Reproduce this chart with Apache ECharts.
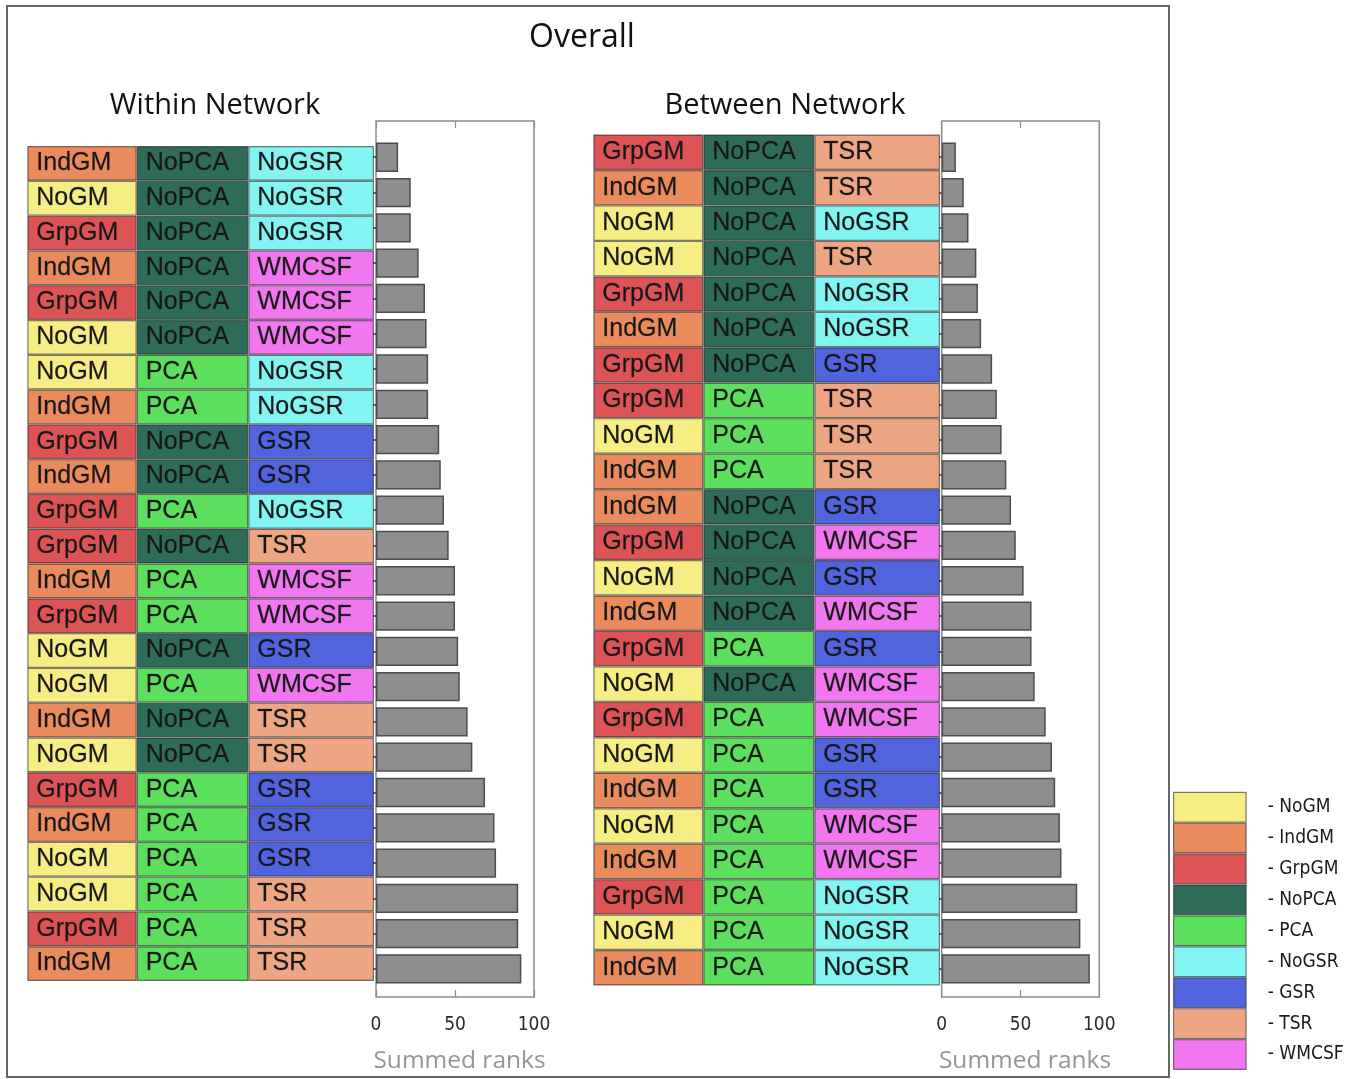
<!DOCTYPE html>
<html>
<head>
<meta charset="utf-8">
<title>Overall - summed ranks</title>
<script src="https://cdn.jsdelivr.net/npm/echarts@6/dist/echarts.min.js"></script>
<style>
  html, body { margin: 0; padding: 0; background: #fff; }
  #chart { width: 1355px; height: 1079px; }
</style>
</head>
<body>
<div id="chart"></div>
<script>
// ---- data ----
var withinGM = ["IndGM", "NoGM", "GrpGM", "IndGM", "GrpGM", "NoGM", "NoGM", "IndGM", "GrpGM", "IndGM", "GrpGM", "GrpGM",
  "IndGM", "GrpGM", "NoGM", "NoGM", "IndGM", "NoGM", "GrpGM", "IndGM", "NoGM", "NoGM", "GrpGM", "IndGM"];
var withinPCA = ["NoPCA", "NoPCA", "NoPCA", "NoPCA", "NoPCA", "NoPCA", "PCA", "PCA", "NoPCA", "NoPCA", "PCA", "NoPCA",
  "PCA", "PCA", "NoPCA", "PCA", "NoPCA", "NoPCA", "PCA", "PCA", "PCA", "PCA", "PCA", "PCA"];
var withinNR = ["NoGSR", "NoGSR", "NoGSR", "WMCSF", "WMCSF", "WMCSF", "NoGSR", "NoGSR", "GSR", "GSR", "NoGSR", "TSR",
  "WMCSF", "WMCSF", "GSR", "WMCSF", "TSR", "TSR", "GSR", "GSR", "GSR", "TSR", "TSR", "TSR"];
var withinRanks = [14, 22, 22, 27, 31, 32, 33, 33, 40, 41, 43, 46, 50, 50, 52, 53, 58, 61, 69, 75, 76, 90, 90, 92];

var betweenGM = ["GrpGM", "IndGM", "NoGM", "NoGM", "GrpGM", "IndGM", "GrpGM", "GrpGM", "NoGM", "IndGM", "IndGM", "GrpGM",
  "NoGM", "IndGM", "GrpGM", "NoGM", "GrpGM", "NoGM", "IndGM", "NoGM", "IndGM", "GrpGM", "NoGM", "IndGM"];
var betweenPCA = ["NoPCA", "NoPCA", "NoPCA", "NoPCA", "NoPCA", "NoPCA", "NoPCA", "PCA", "PCA", "PCA", "NoPCA", "NoPCA",
  "NoPCA", "NoPCA", "PCA", "NoPCA", "PCA", "PCA", "PCA", "PCA", "PCA", "PCA", "PCA", "PCA"];
var betweenNR = ["TSR", "TSR", "NoGSR", "TSR", "NoGSR", "NoGSR", "GSR", "TSR", "TSR", "TSR", "GSR", "WMCSF",
  "GSR", "WMCSF", "GSR", "WMCSF", "WMCSF", "GSR", "GSR", "WMCSF", "WMCSF", "NoGSR", "NoGSR", "NoGSR"];
var betweenRanks = [9, 14, 17, 22, 23, 25, 32, 35, 38, 41, 44, 47, 52, 57, 57, 59, 66, 70, 72, 75, 76, 86, 88, 94];

var legendNames = ["NoGM", "IndGM", "GrpGM", "NoPCA", "PCA", "NoGSR", "GSR", "TSR", "WMCSF"];

// ---- styles ----
var COLORS = {
  NoGM: "#F6EE84",
  IndGM: "#EA8B5E",
  GrpGM: "#DD5457",
  NoPCA: "#2F6B59",
  PCA: "#5CDF5C",
  NoGSR: "#82F5F3",
  GSR: "#5263DE",
  TSR: "#EDA584",
  WMCSF: "#F077EF",
};
var TITLE_FONT = "'Open Sans', 'DejaVu Sans', sans-serif";
var CELL_FONT = "'Liberation Sans', Arial, sans-serif";
var NARROW_FONT = "'DejaVu Sans Condensed', 'Liberation Sans Narrow', 'Liberation Sans', sans-serif";
var leftCols = [109.4, 111.6, 125.7];
var rightCols = [110, 111, 125.7];

var rowIds = withinRanks.map(function (d, i) {
  return String(i + 1);
});

function sum(arr) {
  return arr.reduce(function (a, b) {
    return a + b;
  }, 0);
}

// one stacked bar per table column, each cell coloured by its label
function tableSeries(cols, widths, xIdx, yIdx, stackName) {
  return cols.map(function (col, c) {
    return {
      type: "bar",
      xAxisIndex: xIdx,
      yAxisIndex: yIdx,
      stack: stackName,
      barWidth: "100%",
      silent: true,
      data: col.map(function (name) {
        return {
          value: widths[c],
          cell: name,
          itemStyle: { color: COLORS[name] },
        };
      }),
      itemStyle: { borderColor: "rgba(20,20,20,0.55)", borderWidth: 1.2 },
      label: {
        show: true,
        position: "insideLeft",
        distance: 9,
        formatter: function (p) {
          return p.data.cell;
        },
        fontFamily: CELL_FONT,
        fontSize: 25,
        color: "#161616",
        textBorderColor: "rgba(22,22,22,0.5)",
        textBorderWidth: 0.4,
      },
    };
  });
}

function rankSeries(values, xIdx, yIdx) {
  return {
    type: "bar",
    xAxisIndex: xIdx,
    yAxisIndex: yIdx,
    barWidth: "83%",
    silent: true,
    data: values,
    itemStyle: { color: "#8e8e8e", borderColor: "#4d4d4d", borderWidth: 1.5 },
  };
}

function frameXAxis(gridIdx, bottom) {
  return {
    type: "value",
    gridIndex: gridIdx,
    position: bottom ? "bottom" : "top",
    min: 0,
    max: 100,
    interval: 50,
    axisLine: { show: false },
    axisTick: { show: true, inside: true, length: 7, lineStyle: { color: "#8c8c8c", width: 1.2 } },
    splitLine: { show: false },
    axisLabel: {
      show: bottom,
      margin: 19,
      fontFamily: NARROW_FONT,
      fontSize: 19,
      color: "#2a2a2a",
    },
    name: bottom ? "Summed ranks" : "",
    nameLocation: "middle",
    nameGap: 52,
    nameTextStyle: { fontFamily: TITLE_FONT, fontSize: 24.5, color: "#959595", padding: [0, 0, 0, 9] },
  };
}

function hiddenX(gridIdx, max) {
  return {
    type: "value",
    gridIndex: gridIdx,
    min: 0,
    max: max,
    show: false,
  };
}

function tickYAxis(gridIdx) {
  return {
    type: "category",
    gridIndex: gridIdx,
    inverse: true,
    position: "right",
    data: rowIds,
    axisLine: { show: false },
    axisTick: { show: true, inside: true, alignWithLabel: true, length: 5, lineStyle: { color: "#333", width: 1.5 } },
    axisLabel: { show: false },
  };
}

function hiddenY(gridIdx, data) {
  return {
    type: "category",
    gridIndex: gridIdx,
    inverse: true,
    data: data,
    show: false,
  };
}

var frameGrid = { show: true, borderColor: "#8c8c8c", borderWidth: 1.5, backgroundColor: "transparent" };

var option = {
  backgroundColor: "#fff",
  animation: false,
  title: [
    { text: "Overall", left: 577, top: 17, textAlign: "center",
      textStyle: { fontFamily: TITLE_FONT, fontWeight: "normal", fontSize: 32, color: "#111" } },
    { text: "Within Network", left: 210, top: 86, textAlign: "center",
      textStyle: { fontFamily: TITLE_FONT, fontWeight: "normal", fontSize: 29, color: "#111" } },
    { text: "Between Network", left: 780, top: 86, textAlign: "center",
      textStyle: { fontFamily: TITLE_FONT, fontWeight: "normal", fontSize: 29, color: "#111" } },
  ],
  grid: [
    Object.assign({ left: 376, top: 121, width: 158, height: 886 }, frameGrid),
    { left: 376, top: 139.6, width: 158, height: 847 },
    { left: 27.3, top: 146, width: 346.7, height: 835 },
    Object.assign({ left: 941.7, top: 121, width: 157.6, height: 886 }, frameGrid),
    { left: 941.7, top: 139.6, width: 157.6, height: 847 },
    { left: 593.3, top: 134.5, width: 346.7, height: 851 },
    { left: 1173, top: 791.7, width: 73.7, height: 278.3 },
  ],
  xAxis: [
    frameXAxis(0, true),   // 0
    frameXAxis(0, false),  // 1
    hiddenX(1, 100),       // 2
    hiddenX(2, sum(leftCols)), // 3
    frameXAxis(3, true),   // 4
    frameXAxis(3, false),  // 5
    hiddenX(4, 100),       // 6
    hiddenX(5, sum(rightCols)), // 7
    hiddenX(6, 1),         // 8
  ],
  yAxis: [
    { type: "value", gridIndex: 0, show: false, min: 0, max: 1 }, // 0
    tickYAxis(1),          // 1
    hiddenY(2, rowIds),    // 2
    { type: "value", gridIndex: 3, show: false, min: 0, max: 1 }, // 3
    tickYAxis(4),          // 4
    hiddenY(5, rowIds),    // 5
    {
      type: "category",
      gridIndex: 6,
      inverse: true,
      position: "right",
      data: legendNames,
      axisLine: { show: false },
      axisTick: { show: false },
      axisLabel: {
        margin: 21,
        fontFamily: NARROW_FONT,
        fontSize: 19,
        color: "#1a1a1a",
        formatter: function (v) {
          return "- " + v;
        },
      },
    },                     // 6
  ],
  series: []
    .concat(tableSeries([withinGM, withinPCA, withinNR], leftCols, 3, 2, "within"))
    .concat([rankSeries(withinRanks, 2, 1)])
    .concat(tableSeries([betweenGM, betweenPCA, betweenNR], rightCols, 7, 5, "between"))
    .concat([rankSeries(betweenRanks, 6, 4)])
    .concat([
      {
        type: "bar",
        xAxisIndex: 8,
        yAxisIndex: 6,
        barWidth: "100%",
        silent: true,
        data: legendNames.map(function (name) {
          return { value: 1, itemStyle: { color: COLORS[name] } };
        }),
        itemStyle: { borderColor: "rgba(40,40,40,0.6)", borderWidth: 1.2 },
      },
    ]),
  graphic: [
    {
      type: "rect",
      shape: { x: 7, y: 6, width: 1162, height: 1071 },
      style: { fill: "none", stroke: "#666", lineWidth: 2 },
      silent: true,
    },
  ],
};

var myChart = echarts.init(document.getElementById("chart"), null, { renderer: "canvas" });
myChart.setOption(option);
</script>
</body>
</html>
